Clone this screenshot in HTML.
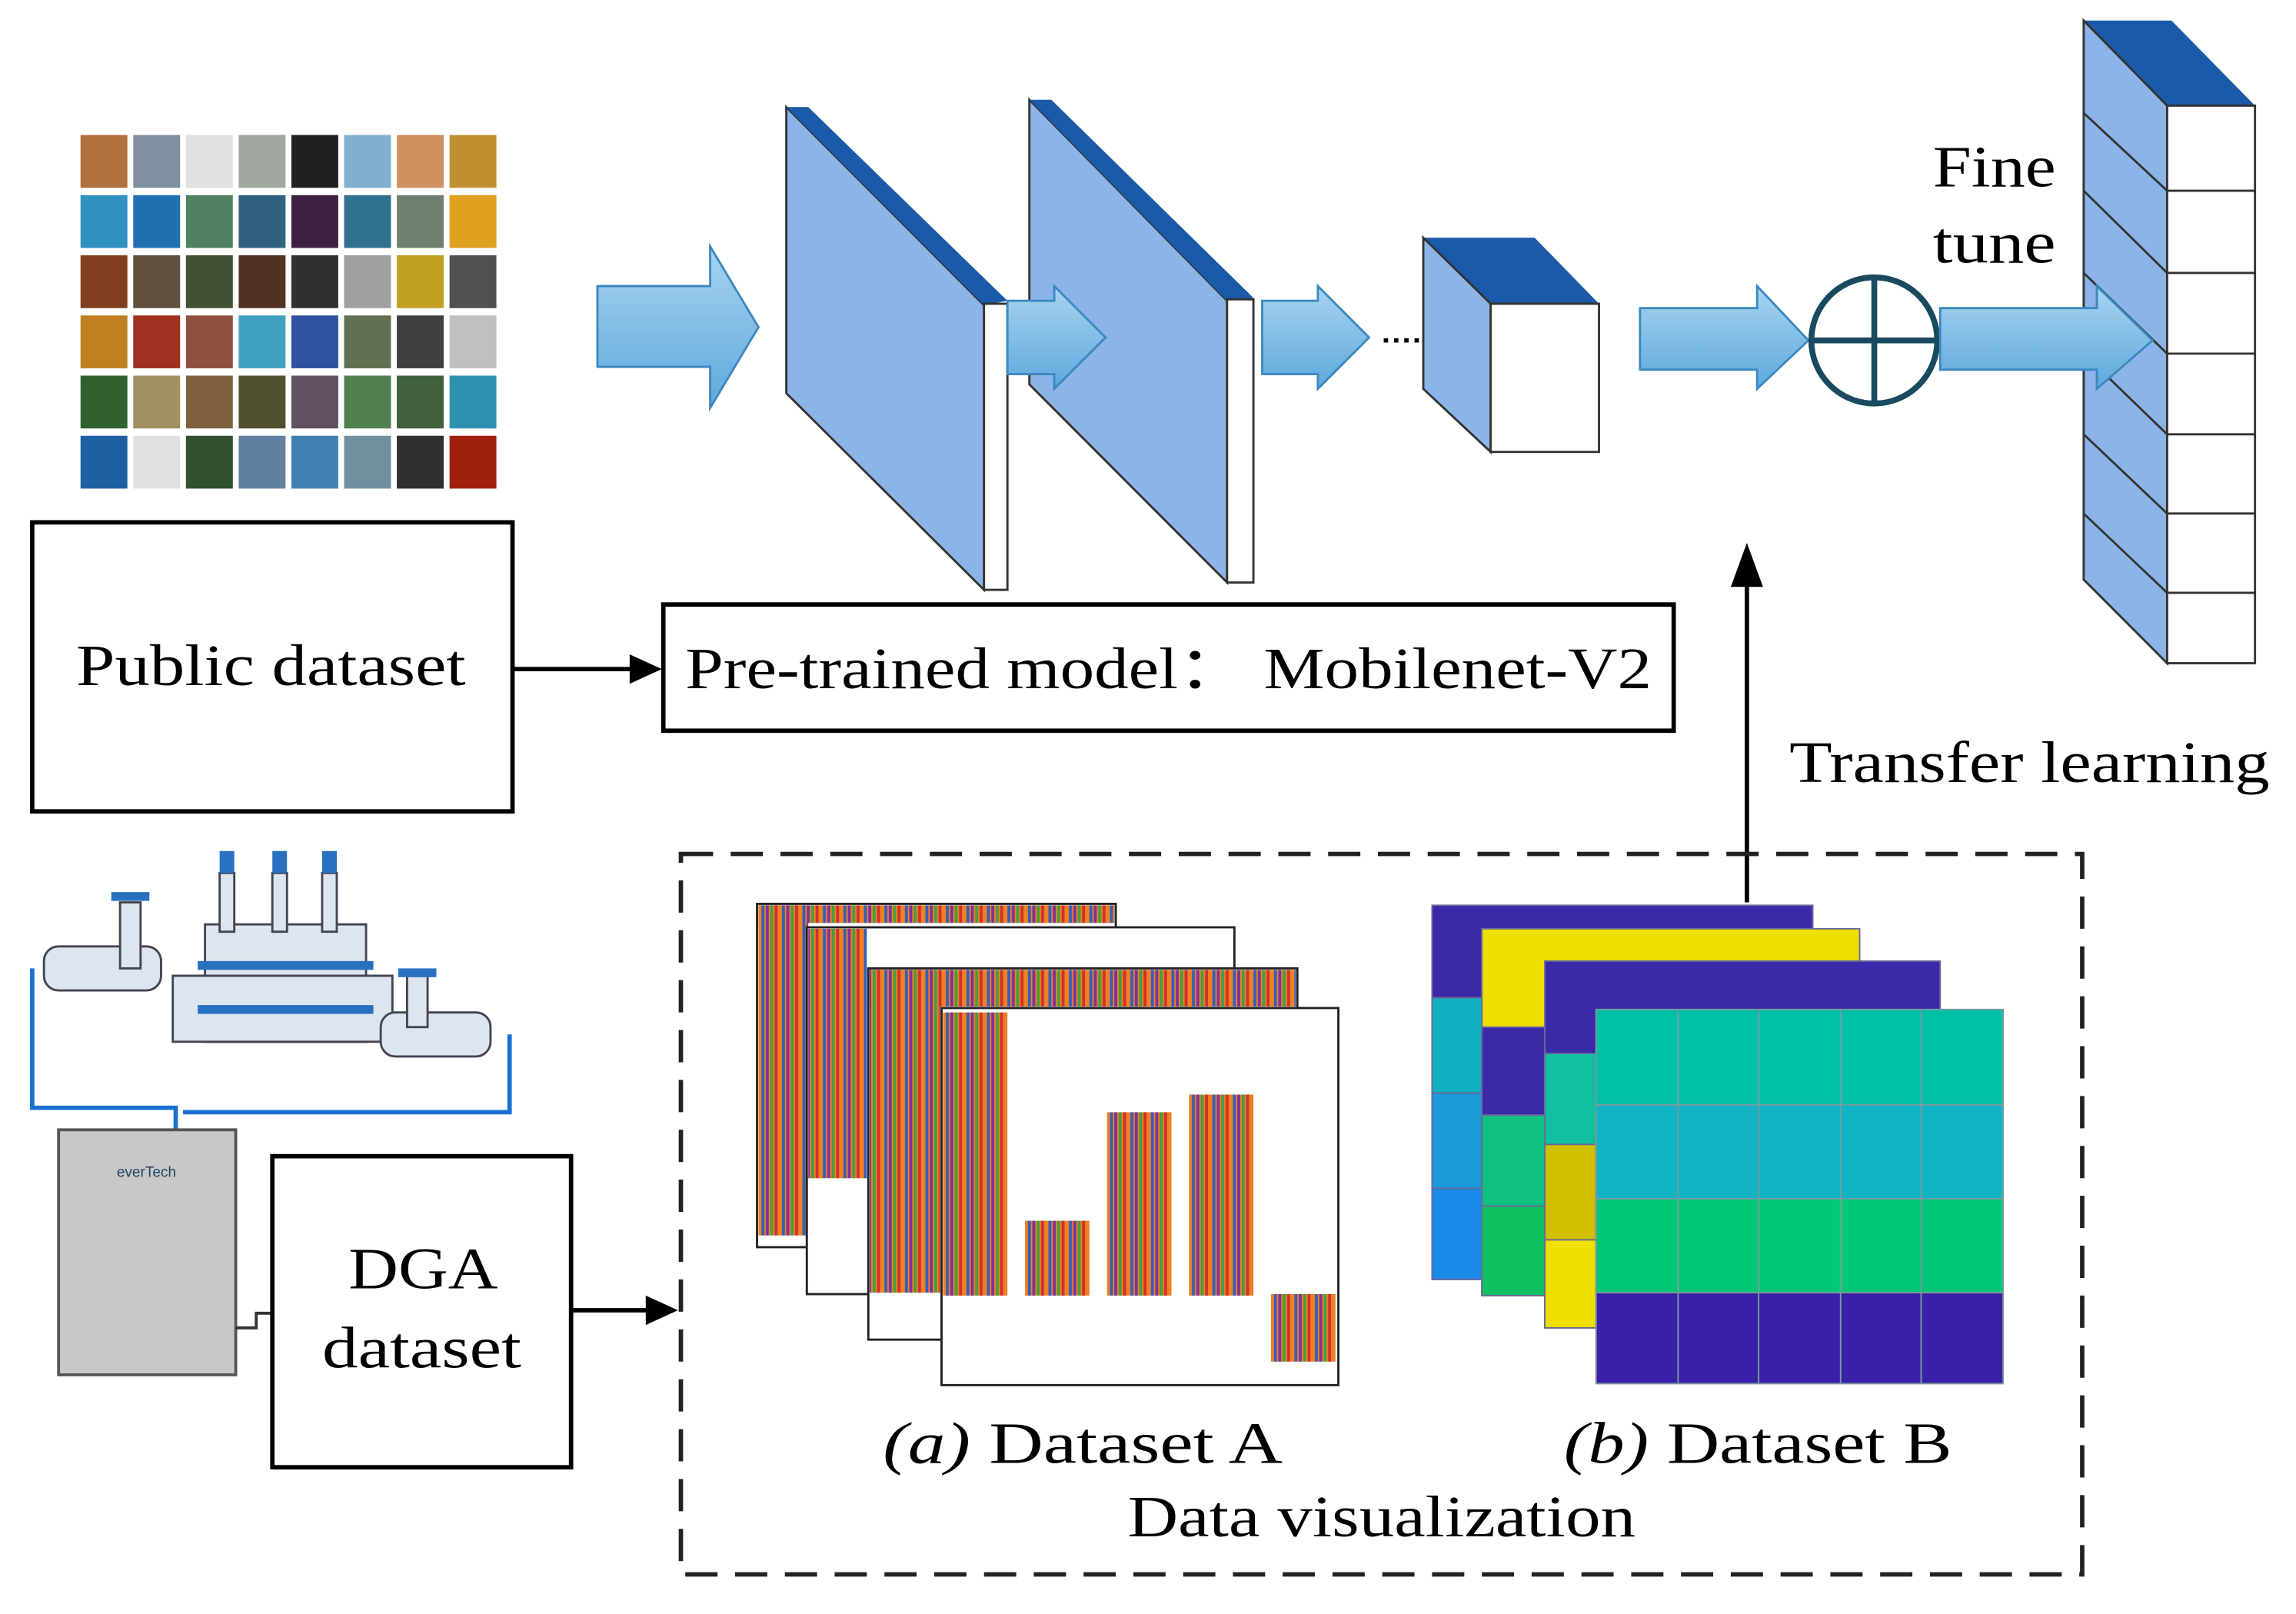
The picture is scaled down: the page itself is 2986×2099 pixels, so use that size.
<!DOCTYPE html>
<html><head><meta charset="utf-8"><style>html,body{margin:0;padding:0;background:#fff}svg{display:block}</style></head>
<body>
<svg width="2986" height="2099" viewBox="0 0 1568 1100" preserveAspectRatio="none" xmlns="http://www.w3.org/2000/svg" font-family="Liberation Serif, serif">
<defs>
<pattern id="st" width="14" height="10" patternUnits="userSpaceOnUse">
<rect width="14" height="10" fill="#f08020"/><rect x="2" width="2" height="10" fill="#3060c0"/><rect x="5" width="2" height="10" fill="#8030a0"/><rect x="8" width="2" height="10" fill="#40a040"/><rect x="11" width="2" height="10" fill="#d03030"/>
</pattern>
<linearGradient id="ar" x1="0" y1="0" x2="0" y2="1"><stop offset="0" stop-color="#a8d4f0"/><stop offset="1" stop-color="#5ea8dc"/></linearGradient>
</defs>
<g>
<rect x="55" y="92" width="32" height="36" fill="#b07040"/><rect x="91" y="92" width="32" height="36" fill="#8090a0"/><rect x="127" y="92" width="32" height="36" fill="#e0e0e0"/><rect x="163" y="92" width="32" height="36" fill="#a0a8a0"/><rect x="199" y="92" width="32" height="36" fill="#202020"/><rect x="235" y="92" width="32" height="36" fill="#80b0d0"/><rect x="271" y="92" width="32" height="36" fill="#d09060"/><rect x="307" y="92" width="32" height="36" fill="#c09030"/>
<rect x="55" y="133" width="32" height="36" fill="#3090c0"/><rect x="91" y="133" width="32" height="36" fill="#2070b0"/><rect x="127" y="133" width="32" height="36" fill="#508060"/><rect x="163" y="133" width="32" height="36" fill="#306080"/><rect x="199" y="133" width="32" height="36" fill="#402040"/><rect x="235" y="133" width="32" height="36" fill="#307090"/><rect x="271" y="133" width="32" height="36" fill="#708070"/><rect x="307" y="133" width="32" height="36" fill="#e0a020"/>
<rect x="55" y="174" width="32" height="36" fill="#804020"/><rect x="91" y="174" width="32" height="36" fill="#605040"/><rect x="127" y="174" width="32" height="36" fill="#405030"/><rect x="163" y="174" width="32" height="36" fill="#503020"/><rect x="199" y="174" width="32" height="36" fill="#303030"/><rect x="235" y="174" width="32" height="36" fill="#a0a0a0"/><rect x="271" y="174" width="32" height="36" fill="#c0a020"/><rect x="307" y="174" width="32" height="36" fill="#505050"/>
<rect x="55" y="215" width="32" height="36" fill="#c08020"/><rect x="91" y="215" width="32" height="36" fill="#a03020"/><rect x="127" y="215" width="32" height="36" fill="#905040"/><rect x="163" y="215" width="32" height="36" fill="#40a0c0"/><rect x="199" y="215" width="32" height="36" fill="#3050a0"/><rect x="235" y="215" width="32" height="36" fill="#607050"/><rect x="271" y="215" width="32" height="36" fill="#404040"/><rect x="307" y="215" width="32" height="36" fill="#c0c0c0"/>
<rect x="55" y="256" width="32" height="36" fill="#306030"/><rect x="91" y="256" width="32" height="36" fill="#a09060"/><rect x="127" y="256" width="32" height="36" fill="#806040"/><rect x="163" y="256" width="32" height="36" fill="#505030"/><rect x="199" y="256" width="32" height="36" fill="#605060"/><rect x="235" y="256" width="32" height="36" fill="#508050"/><rect x="271" y="256" width="32" height="36" fill="#406040"/><rect x="307" y="256" width="32" height="36" fill="#3090b0"/>
<rect x="55" y="297" width="32" height="36" fill="#2060a0"/><rect x="91" y="297" width="32" height="36" fill="#e0e0e0"/><rect x="127" y="297" width="32" height="36" fill="#305030"/><rect x="163" y="297" width="32" height="36" fill="#6080a0"/><rect x="199" y="297" width="32" height="36" fill="#4080b0"/><rect x="235" y="297" width="32" height="36" fill="#7090a0"/><rect x="271" y="297" width="32" height="36" fill="#303030"/><rect x="307" y="297" width="32" height="36" fill="#a02010"/>
</g>
<rect x="22" y="356" width="328" height="197" fill="#fff" stroke="#000" stroke-width="3"/>
<text x="52" y="467" font-size="40" textLength="266" lengthAdjust="spacingAndGlyphs">Public dataset</text>
<line x1="350" y1="456" x2="432" y2="456" stroke="#000" stroke-width="3"/><polygon points="452,456 430,446 430,466" fill="#000"/>
<rect x="453" y="412" width="690" height="86" fill="#fff" stroke="#000" stroke-width="3"/>
<text x="468" y="469" font-size="40" textLength="660" lengthAdjust="spacingAndGlyphs">Pre-trained model： Mobilenet-V2</text>
<g fill="url(#ar)" stroke="#3c88c0" stroke-width="1.5">
<polygon points="408,195 485,195 485,168 518,223 485,278 485,250 408,250"/>
<polygon points="862,205 900,205 900,195 935,230 900,265 900,255 862,255"/>
<polygon points="1120,210 1200,210 1200,195 1235,232 1200,265 1200,252 1120,252"/>
</g>
<polygon points="537,73 672,208 672,402 537,268" fill="#8cb4e8" stroke="#333" stroke-width="1.5"/>
<polygon points="537,73 552,73 688,205 672,208" fill="#1a5aa8"/>
<rect x="672" y="207" width="16" height="195" fill="#fff" stroke="#333" stroke-width="1.5"/>
<polygon points="703,68 838,205 838,397 703,262" fill="#8cb4e8" stroke="#333" stroke-width="1.5"/>
<polygon points="703,68 718,68 856,203 838,205" fill="#1a5aa8"/>
<rect x="838" y="204" width="18" height="193" fill="#fff" stroke="#333" stroke-width="1.5"/>
<polygon points="688,205 720,205 720,195 755,230 720,265 720,255 688,255" fill="url(#ar)" stroke="#3c88c0" stroke-width="1.5"/>
<line x1="945" y1="232" x2="1000" y2="232" stroke="#000" stroke-width="3" stroke-dasharray="3,4"/>
<polygon points="972,162 1048,162 1092,207 1018,207" fill="#1a5aa8"/>
<polygon points="972,162 1018,207 1018,308 972,265" fill="#8cb4e8" stroke="#333" stroke-width="1.5"/>
<rect x="1018" y="207" width="74" height="101" fill="#fff" stroke="#333" stroke-width="1.5"/>
<circle cx="1280" cy="232" r="43" fill="#fff" stroke="#1a4a60" stroke-width="4"/>
<line x1="1237" y1="232" x2="1323" y2="232" stroke="#1a4a60" stroke-width="4"/><line x1="1280" y1="189" x2="1280" y2="275" stroke="#1a4a60" stroke-width="4"/>
<polygon points="1423,14 1483,14 1540,72 1480,72" fill="#1a5aa8"/>
<polygon points="1423,14 1480,72 1480,452 1423,395" fill="#8cb4e8" stroke="#333" stroke-width="1.5"/>
<g stroke="#333" stroke-width="1.5" fill="none">
<line x1="1423" y1="77" x2="1480" y2="130"/><line x1="1423" y1="130" x2="1480" y2="186"/><line x1="1423" y1="186" x2="1480" y2="241"/><line x1="1423" y1="241" x2="1480" y2="296"/><line x1="1423" y1="296" x2="1480" y2="350"/><line x1="1423" y1="350" x2="1480" y2="404"/>
</g>
<rect x="1480" y="72" width="60" height="380" fill="#fff" stroke="#333" stroke-width="1.5"/>
<g stroke="#333" stroke-width="1.5"><line x1="1480" y1="130" x2="1540" y2="130"/><line x1="1480" y1="186" x2="1540" y2="186"/><line x1="1480" y1="241" x2="1540" y2="241"/><line x1="1480" y1="296" x2="1540" y2="296"/><line x1="1480" y1="350" x2="1540" y2="350"/><line x1="1480" y1="404" x2="1540" y2="404"/></g>
<polygon points="1325,210 1432,210 1432,195 1470,232 1432,265 1432,252 1325,252" fill="url(#ar)" stroke="#3c88c0" stroke-width="1.5"/>
<text x="1320" y="127" font-size="40" textLength="84" lengthAdjust="spacingAndGlyphs">Fine</text>
<text x="1320" y="179" font-size="40" textLength="84" lengthAdjust="spacingAndGlyphs">tune</text>
<line x1="1193" y1="615" x2="1193" y2="395" stroke="#000" stroke-width="3"/><polygon points="1193,370 1182,400 1204,400" fill="#000"/>
<text x="1222" y="533" font-size="40" textLength="328" lengthAdjust="spacingAndGlyphs">Transfer learning</text>
<rect x="465" y="582" width="957" height="491" fill="none" stroke="#222" stroke-width="3" stroke-dasharray="22,12"/>
<g stroke="#1a70d0" stroke-width="3" fill="none">
<path d="M22,660 L22,755 L120,755 L120,770"/><path d="M348,705 L348,758 L125,758"/>
</g>
<g fill="#dde6ee" stroke="#445" stroke-width="1.5">
<rect x="140" y="630" width="110" height="80"/><rect x="118" y="665" width="150" height="45"/>
<rect x="150" y="595" width="10" height="40"/><rect x="186" y="595" width="10" height="40"/><rect x="220" y="595" width="10" height="40"/>
<rect x="30" y="645" width="80" height="30" rx="10"/><rect x="260" y="690" width="75" height="30" rx="10"/>
<rect x="82" y="615" width="14" height="45"/><rect x="278" y="665" width="14" height="35"/>
</g>
<g fill="#2a70c0"><rect x="135" y="655" width="120" height="6"/><rect x="135" y="685" width="120" height="6"/><rect x="150" y="580" width="10" height="15"/><rect x="186" y="580" width="10" height="15"/><rect x="220" y="580" width="10" height="15"/><rect x="76" y="608" width="26" height="6"/><rect x="272" y="660" width="26" height="6"/></g>
<rect x="40" y="770" width="121" height="167" fill="#c8c8c8" stroke="#555" stroke-width="2"/>
<text x="100" y="802" font-size="10" text-anchor="middle" font-family="Liberation Sans, sans-serif" fill="#246">everTech</text>
<path d="M161,905 L175,905 L175,895 L186,895" stroke="#333" stroke-width="2" fill="none"/>
<rect x="186" y="788" width="204" height="212" fill="#fff" stroke="#000" stroke-width="3"/>
<text x="238" y="878" font-size="40" textLength="102" lengthAdjust="spacingAndGlyphs">DGA</text>
<text x="220" y="932" font-size="40" textLength="136" lengthAdjust="spacingAndGlyphs">dataset</text>
<line x1="390" y1="893" x2="443" y2="893" stroke="#000" stroke-width="3"/><polygon points="463,893 441,883 441,903" fill="#000"/>
<g stroke="#222" stroke-width="1.5">
<rect x="517" y="616" width="245" height="234" fill="#fff"/>
<rect x="518" y="617" width="243" height="12" fill="url(#st)" stroke="none"/>
<rect x="518" y="617" width="34" height="225" fill="url(#st)" stroke="none"/>
<rect x="551" y="632" width="292" height="250" fill="#fff"/>
<rect x="552" y="633" width="40" height="170" fill="url(#st)" stroke="none"/>
<rect x="593" y="660" width="293" height="253" fill="#fff"/>
<rect x="594" y="661" width="291" height="25" fill="url(#st)" stroke="none"/>
<rect x="594" y="661" width="48" height="220" fill="url(#st)" stroke="none"/>
<rect x="643" y="687" width="271" height="257" fill="#fff"/>
<rect x="644" y="690" width="44" height="193" fill="url(#st)" stroke="none"/>
<rect x="700" y="832" width="44" height="51" fill="url(#st)" stroke="none"/>
<rect x="756" y="758" width="44" height="125" fill="url(#st)" stroke="none"/>
<rect x="812" y="746" width="44" height="137" fill="url(#st)" stroke="none"/>
<rect x="868" y="882" width="44" height="46" fill="url(#st)" stroke="none"/>
</g>
<g stroke="#6a6a9a" stroke-width="1">
<rect x="978" y="617" width="260" height="255" fill="#3a2aa8"/>
<rect x="978" y="680" width="35" height="65" fill="#10b0c0"/><rect x="978" y="745" width="35" height="65" fill="#1a9ad8"/><rect x="978" y="810" width="35" height="62" fill="#1a8ae8"/>
<rect x="1012" y="633" width="258" height="250" fill="#f0e000"/>
<rect x="1012" y="700" width="45" height="60" fill="#3a2aa8"/><rect x="1012" y="760" width="45" height="62" fill="#10c080"/><rect x="1012" y="822" width="45" height="61" fill="#10c060"/>
<rect x="1055" y="655" width="270" height="250" fill="#3a2aa8"/>
<rect x="1055" y="718" width="35" height="62" fill="#10c0a0"/><rect x="1055" y="780" width="35" height="65" fill="#d0c000"/><rect x="1055" y="845" width="35" height="60" fill="#f0e000"/>
</g>
<g stroke="#7a9aa0" stroke-width="1">
<rect x="1090" y="688" width="278" height="65" fill="#00c0a8"/>
<rect x="1090" y="753" width="278" height="64" fill="#10b4c4"/>
<rect x="1090" y="817" width="278" height="64" fill="#00c878"/>
<rect x="1090" y="881" width="278" height="62" fill="#3a20a8"/>
<line x1="1146" y1="688" x2="1146" y2="943"/><line x1="1201" y1="688" x2="1201" y2="943"/><line x1="1257" y1="688" x2="1257" y2="943"/><line x1="1312" y1="688" x2="1312" y2="943"/>
</g>
<text x="603" y="997" font-size="40" textLength="273" lengthAdjust="spacingAndGlyphs"><tspan font-style="italic">(a)</tspan>  Dataset A</text>
<text x="1068" y="997" font-size="40" textLength="265" lengthAdjust="spacingAndGlyphs"><tspan font-style="italic">(b)</tspan>  Dataset B</text>
<text x="770" y="1047" font-size="40" textLength="347" lengthAdjust="spacingAndGlyphs">Data visualization</text>
</svg>
</body></html>
